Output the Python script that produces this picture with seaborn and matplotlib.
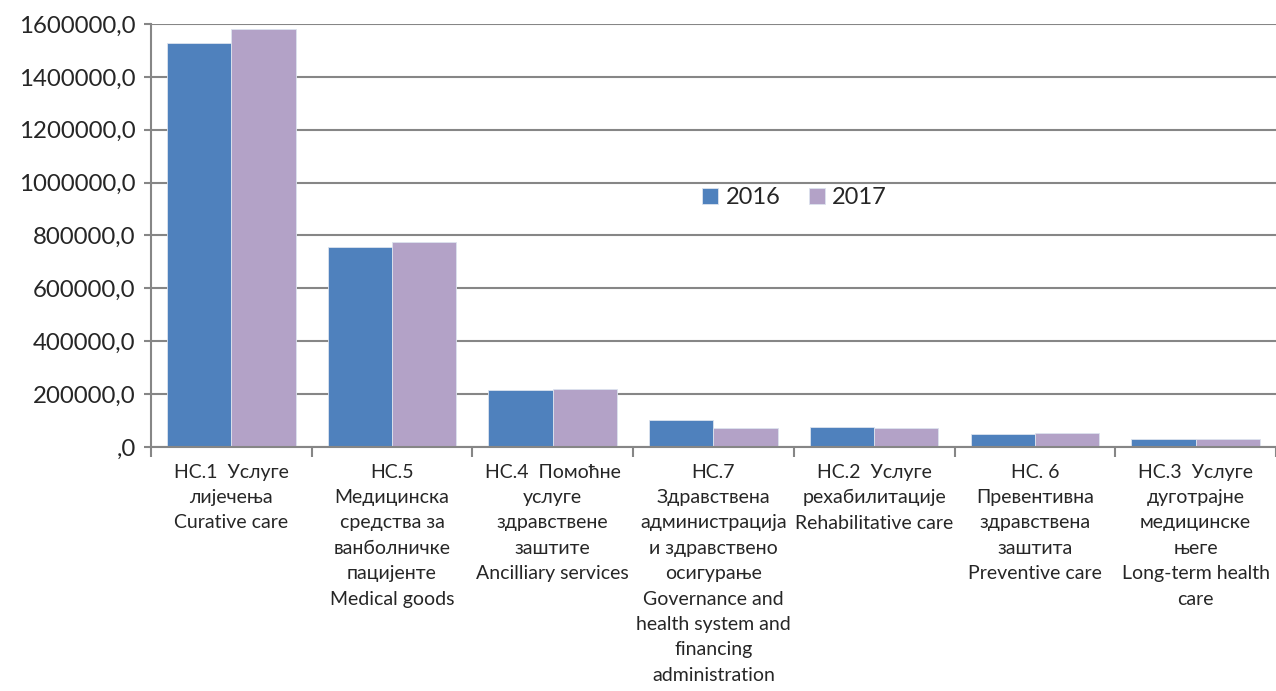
import numpy as np
import pandas as pd
import seaborn as sns
import matplotlib.pyplot as plt
from matplotlib.ticker import FuncFormatter

# data
categories = [
    "НС.1  Услуге\nлијечења\nCurative care",
    "НС.5\nМедицинска\nсредства за\nванболничке\nпацијенте\nMedical goods",
    "НС.4  Помоћне\nуслуге\nздравствене\nзаштите\nAncilliary services",
    "НС.7\nЗдравствена\nадминистрација\nи здравствено\nосигурање\nGovernance and\nhealth system and\nfinancing\nadministration",
    "НС.2  Услуге\nрехабилитације\nRehabilitative care",
    "НС. 6\nПревентивна\nздравствена\nзаштита\nPreventive care",
    "НС.3  Услуге\nдуготрајне\nмедицинске\nњеге\nLong-term health\ncare",
]
values_2016 = [1527000, 756000, 217000, 102000, 77000, 50000, 29000]
values_2017 = [1580000, 775000, 219000, 72000, 72000, 54000, 30000]
years = ["2016", "2017"]
y_ticks = [0, 200000, 400000, 600000, 800000, 1000000, 1200000, 1400000, 1600000]

df = pd.DataFrame({
    'cat': list(range(len(categories))) * 2,
    'year': [years[0]] * len(categories) + [years[1]] * len(categories),
    'value': values_2016 + values_2017,
})

sns.set_style('white')
plt.rcParams['font.family'] = ['Lato', 'Noto Sans', 'DejaVu Sans']

fig = plt.figure(figsize=(12.76, 6.91), dpi=100)
ax = fig.add_axes([0.1183, 0.3531, 0.8817, 0.6122])

grid_col = '#868686'
ax.set_axisbelow(True)
ax.yaxis.grid(True, color=grid_col, linewidth=1.5)

sns.barplot(data=df, x='cat', y='value', hue='year', order=list(range(len(categories))),
            palette=['#4F81BD', '#B3A2C7'], saturation=1, width=0.8, ax=ax,
            edgecolor='#DCE3EE', linewidth=0.6, legend=True)

ax.set_ylim(0, 1600000)
ax.set_xlim(-0.5, len(categories) - 0.5)
ax.set_yticks(y_ticks)
ax.yaxis.set_major_formatter(FuncFormatter(lambda v, p: f"{int(v)},0" if v else ",0"))
ax.tick_params(axis='y', labelsize=17.3, length=5, width=1.5, color=grid_col, left=True, pad=6)

ax.set_xticks(np.arange(-0.5, len(categories), 1.0))
ax.set_xticklabels([])
ax.set_xticks(np.arange(len(categories)), minor=True)
ax.set_xticklabels(categories, minor=True, fontsize=14, linespacing=1.6)
ax.tick_params(axis='x', which='major', length=7, width=1.5, color=grid_col, bottom=True)
ax.tick_params(axis='x', which='minor', length=0, pad=12)

for s in ['top', 'right']:
    ax.spines[s].set_visible(False)
for s in ['left', 'bottom']:
    ax.spines[s].set_color(grid_col)
    ax.spines[s].set_linewidth(1.5)

ax.set_xlabel('')
ax.set_ylabel('')

ax.legend(loc='center', bbox_to_anchor=(0.572, 0.589), ncol=2, frameon=False,
          fontsize=17, handlelength=0.7, handleheight=0.7, handletextpad=0.3,
          columnspacing=1.2, borderpad=0)

fig.savefig('out.png', dpi=100)
